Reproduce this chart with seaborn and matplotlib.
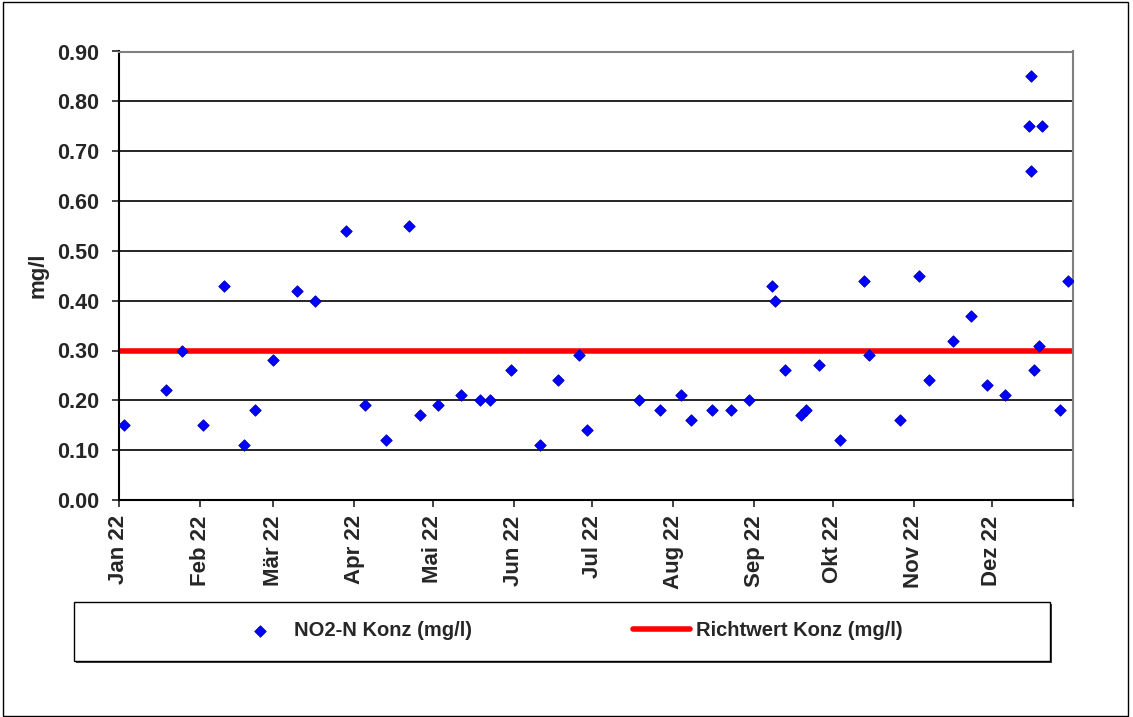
import matplotlib
matplotlib.use("Agg")
import matplotlib.pyplot as plt
from matplotlib.patches import Rectangle
import numpy as np
import pandas as pd
import seaborn as sns

# NO2-N measurements (mg/l)
sample_dates = [
    "2022-01-03", "2022-01-19", "2022-01-25", "2022-02-02", "2022-02-10",
    "2022-02-18", "2022-02-22", "2022-03-01", "2022-03-10", "2022-03-17",
    "2022-03-29", "2022-04-05", "2022-04-13", "2022-04-22", "2022-04-26",
    "2022-05-03", "2022-05-12", "2022-05-19", "2022-05-23", "2022-05-31",
    "2022-06-11", "2022-06-18", "2022-06-26", "2022-06-29", "2022-07-19",
    "2022-07-27", "2022-08-04", "2022-08-08", "2022-08-16", "2022-08-23",
    "2022-08-30", "2022-09-08", "2022-09-09", "2022-09-13", "2022-09-19",
    "2022-09-21", "2022-09-26", "2022-10-04", "2022-10-13", "2022-10-15",
    "2022-10-27", "2022-11-03", "2022-11-07", "2022-11-16", "2022-11-23",
    "2022-11-29", "2022-12-06", "2022-12-15", "2022-12-16", "2022-12-16",
    "2022-12-17", "2022-12-19", "2022-12-20", "2022-12-27", "2022-12-30",
]
no2_values = [
    0.15, 0.22, 0.30, 0.15, 0.43,
    0.11, 0.18, 0.28, 0.42, 0.40,
    0.54, 0.19, 0.12, 0.55, 0.17,
    0.19, 0.21, 0.20, 0.20, 0.26,
    0.11, 0.24, 0.29, 0.14, 0.20,
    0.18, 0.21, 0.16, 0.18, 0.18,
    0.20, 0.43, 0.40, 0.26, 0.17,
    0.18, 0.27, 0.12, 0.44, 0.29,
    0.16, 0.45, 0.24, 0.32, 0.37,
    0.23, 0.21, 0.75, 0.66, 0.85,
    0.26, 0.31, 0.75, 0.18, 0.44,
]

# Guide value
guide_dates = ["2022-01-01", "2023-01-01"]
guide_values = [0.30, 0.30]

month_starts = pd.date_range("2022-01-01", "2023-01-01", freq="MS")
month_labels = ["Jan 22", "Feb 22", "Mär 22", "Apr 22", "Mai 22", "Jun 22",
                "Jul 22", "Aug 22", "Sep 22", "Okt 22", "Nov 22", "Dez 22", ""]
y_ticks = [0.0, 0.1, 0.2, 0.3, 0.4, 0.5, 0.6, 0.7, 0.8, 0.9]

sns.set_style("white")
plt.rcParams["font.family"] = ["Liberation Sans", "DejaVu Sans"]
plt.rcParams["font.weight"] = "bold"

W, H = 1133, 717
fig = plt.figure(figsize=(W / 100, H / 100), dpi=100)
ax = fig.add_axes([119 / W, 1 - 500 / H, (1073 - 119) / W, (500 - 51.5) / H])

df = pd.DataFrame({"Datum": pd.to_datetime(sample_dates), "Wert": no2_values})
gdf = pd.DataFrame({"Datum": pd.to_datetime(guide_dates), "Wert": guide_values})

# horizontal grid lines
for yv in y_ticks[1:-1]:
    ax.axhline(yv, color="black", lw=1.2, zorder=1)

sns.lineplot(data=gdf, x="Datum", y="Wert", ax=ax, color="#ff0000", lw=4,
             label="Richtwert Konz (mg/l)", legend=False, zorder=2)
sns.scatterplot(data=df, x="Datum", y="Wert", ax=ax, marker="D", s=34,
                color="#0000ff", edgecolor="#0000b0", linewidth=0.6,
                label="NO2-N Konz (mg/l)", legend=False, zorder=3)

ax.set_xlim(month_starts[0], month_starts[-1])
ax.set_ylim(0, 0.9)
ax.set_xticks(month_starts)
ax.set_xticklabels(month_labels, rotation=90, fontsize=16, fontweight="bold",
                   va="top", ha="center")
ax.set_yticks(y_ticks)
ax.set_yticklabels([f"{v:.2f}" for v in y_ticks], fontsize=15.5, fontweight="bold")
ax.tick_params(axis="y", direction="out", length=5, width=1.2, pad=9, left=True)
ax.tick_params(axis="x", direction="out", length=5, width=1.2, pad=6, bottom=True)
ax.set_xlabel("")
ax.set_ylabel("mg/l", fontsize=16, fontweight="bold")
ax.yaxis.set_label_coords((49 - 119) / (1073 - 119), 0.5)

for side in ["left", "bottom"]:
    ax.spines[side].set_color("black")
    ax.spines[side].set_linewidth(1.5)
for side in ["top", "right"]:
    ax.spines[side].set_color("#808080")
    ax.spines[side].set_linewidth(1.5)

# legend frame with a small shadow
lx0, lx1, ly0, ly1 = 73.5, 1049.5, 602, 660.5
fig.patches.append(Rectangle(((lx0 + 2) / W, 1 - (ly1 + 2) / H), (lx1 - lx0) / W,
                             (ly1 - ly0) / H, transform=fig.transFigure,
                             facecolor="#404040", edgecolor="none", zorder=0))
fig.patches.append(Rectangle((lx0 / W, 1 - ly1 / H), (lx1 - lx0) / W,
                             (ly1 - ly0) / H, transform=fig.transFigure,
                             facecolor="white", edgecolor="black", lw=1.0, zorder=1))

handles, labels = ax.get_legend_handles_labels()
order = [labels.index("NO2-N Konz (mg/l)"), labels.index("Richtwert Konz (mg/l)")]
leg = fig.legend([handles[i] for i in order], [labels[i] for i in order],
                 loc="center", bbox_to_anchor=(567 / W, 1 - 631 / H), ncol=2,
                 frameon=False, prop={"size": 14.5, "weight": "bold"},
                 handlelength=2.8, handletextpad=0.3, columnspacing=8.0,
                 scatterpoints=1)
leg.set_zorder(5)

# outer frame of the figure
fig.patches.append(Rectangle((3 / W, 1 - 716 / H), 1125 / W, 714 / H,
                             transform=fig.transFigure, facecolor="none",
                             edgecolor="black", lw=1.0, zorder=0))

fig.savefig("out.png", dpi=100)
